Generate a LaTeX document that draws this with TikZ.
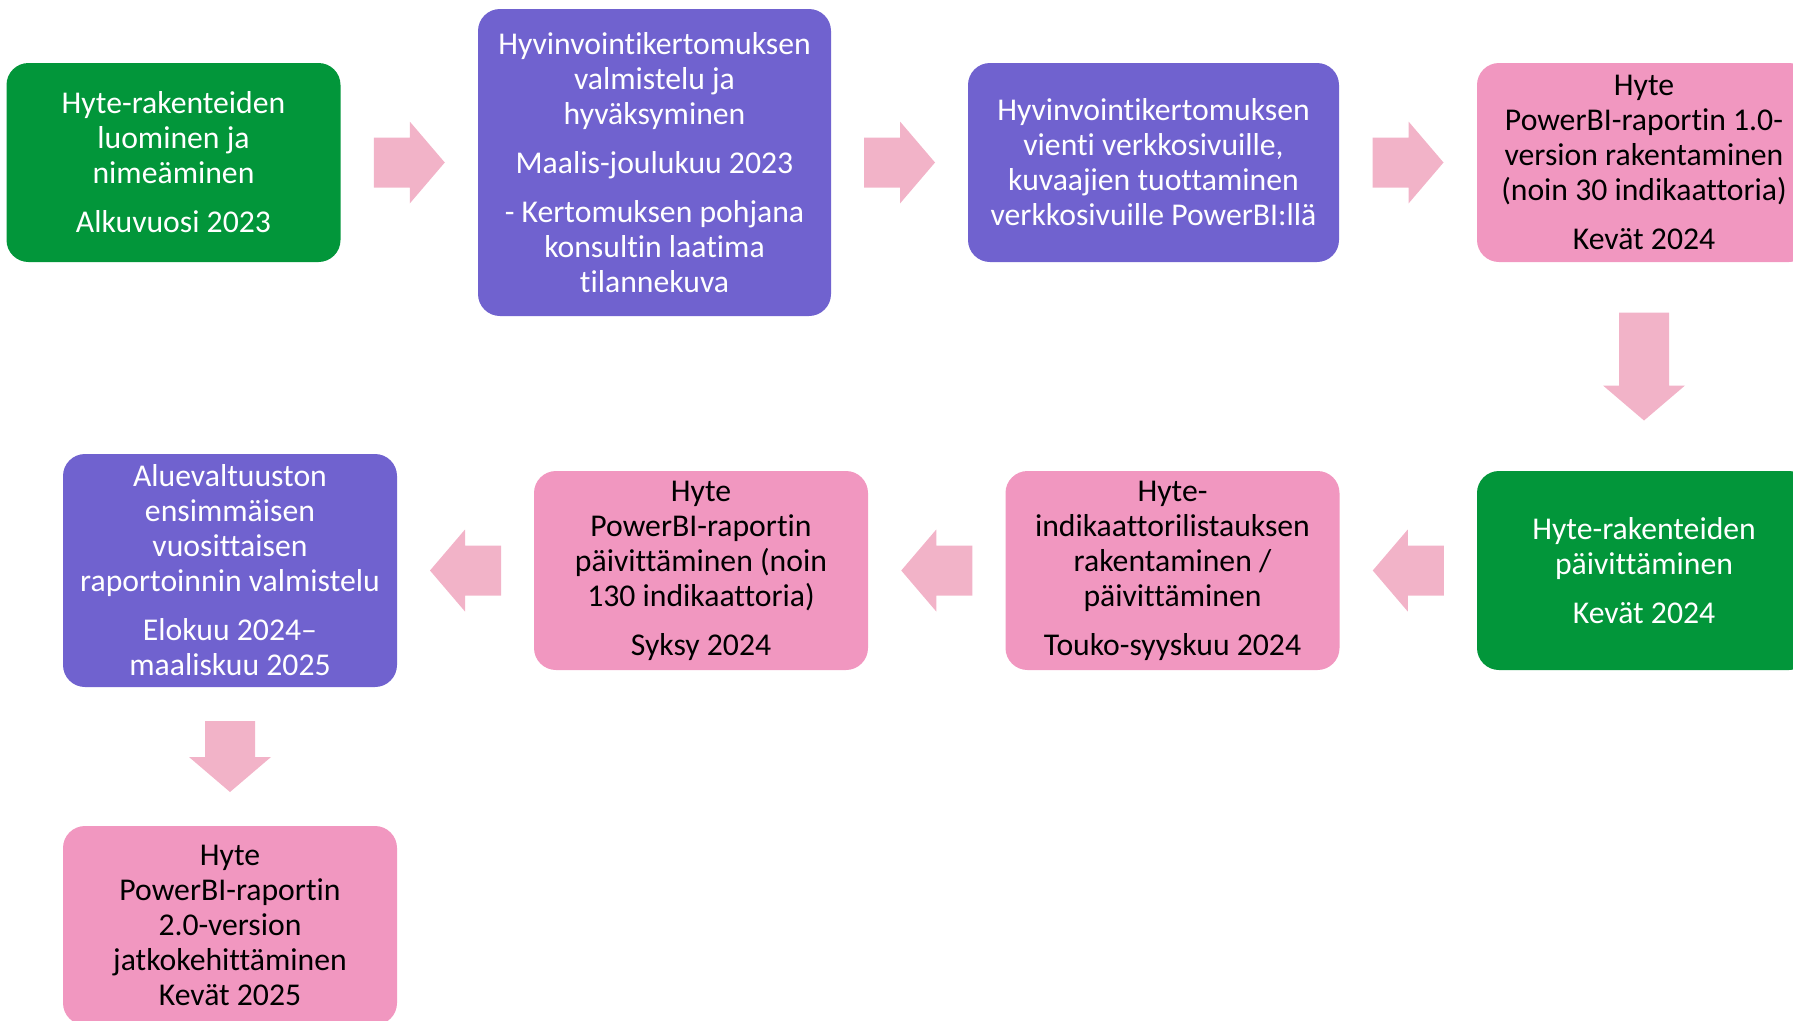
\documentclass[tikz,border=0pt]{standalone}
\usepackage{fontspec}
\setmainfont{Carlito}[Ligatures={NoCommon,NoContextual}]
\usetikzlibrary{calc}

\definecolor{hytegreen}{RGB}{2,150,58}
\definecolor{hytepurple}{RGB}{112,98,207}
\definecolor{hytepink}{RGB}{241,151,192}
\definecolor{arrowpink}{RGB}{242,179,200}

\begin{document}
\begin{tikzpicture}[x=1pt,y=-1pt,
		box/.style={rounded corners=22pt, minimum width=334pt, minimum height=199pt,
			inner sep=0pt, align=center, font=\fontsize{31.7}{35}\selectfont},
		greenbox/.style={box, fill=hytegreen, text=white},
		purplebox/.style={box, fill=hytepurple, text=white},
		pinkbox/.style={box, fill=hytepink, text=black},
		pics/flowarrow/.style={code={
			\fill [arrowpink] (-#1,-25) -- (#1-35,-25) -- (#1-35,-41) -- (#1,0)
				-- (#1-35,41) -- (#1-35,25) -- (-#1,25) -- cycle;}}]
		\useasboundingbox (0,0) rectangle (1793,1020);
		\clip (0,0) rectangle (1793,1020);
		% first row
		\node [greenbox] (luominen) at (173.5,162.5)
			{Hyte-rakenteiden\\luominen ja\\nimeäminen\\[14pt]Alkuvuosi 2023};
		\node [purplebox, minimum width=353pt, minimum height=307pt] (kertomus) at (654.5,162.5)
			{Hyvinvointikertomuksen\\valmistelu ja\\hyväksyminen\\[14pt]Maalis-joulukuu 2023\\[14pt]- Kertomuksen pohjana\\konsultin laatima\\tilannekuva};
		\node [purplebox, minimum width=371pt] (vienti) at (1153.5,162.5)
			{Hyvinvointikertomuksen\\vienti verkkosivuille,\\kuvaajien tuottaminen\\verkkosivuille PowerBI:llä};
		\node [pinkbox] (raportti1) at (1644,162.5)
			{Hyte\\PowerBI-raportin 1.0-\\version rakentaminen\\(noin 30 indikaattoria)\\[14pt]Kevät 2024};
		% second row, right to left
		\node [greenbox] (paivitys) at (1644,570.5)
			{Hyte-rakenteiden\\päivittäminen\\[14pt]Kevät 2024};
		\node [pinkbox] (indikaattorit) at (1172.5,570.5)
			{Hyte-\\indikaattorilistauksen\\rakentaminen /\\päivittäminen\\[14pt]Touko-syyskuu 2024};
		\node [pinkbox] (raportti130) at (701,570.5)
			{Hyte\\PowerBI-raportin\\päivittäminen (noin\\130 indikaattoria)\\[14pt]Syksy 2024};
		\node [purplebox, minimum height=233pt] (valtuusto) at (230,570.5)
			{Aluevaltuuston\\ensimmäisen\\vuosittaisen\\raportoinnin valmistelu\\[14pt]Elokuu 2024–\\maaliskuu 2025};
		% last box
		\node [pinkbox] (raportti2) at (230,925.5)
			{Hyte\\PowerBI-raportin\\2.0-version\\jatkokehittäminen\\Kevät 2025};
		% block arrows
		\path ($(luominen.east)!0.5!(kertomus.west)$) pic {flowarrow=35.5};
		\path ($(kertomus.east)!0.5!(vienti.west)$) pic {flowarrow=35.5};
		\path ($(vienti.east)!0.5!(raportti1.west)$) pic {flowarrow=35.5};
		\path ($(raportti1.south)!0.5!(paivitys.north)$) pic [rotate=-90] {flowarrow=54};
		\path ($(paivitys.west)!0.5!(indikaattorit.east)$) pic [rotate=180] {flowarrow=35.5};
		\path ($(indikaattorit.west)!0.5!(raportti130.east)$) pic [rotate=180] {flowarrow=35.5};
		\path ($(raportti130.west)!0.5!(valtuusto.east)$) pic [rotate=180] {flowarrow=35.5};
		\path ($(valtuusto.south)!0.5!(raportti2.north)$) pic [rotate=-90] {flowarrow=35.5};
	\end{tikzpicture}
\end{document}
